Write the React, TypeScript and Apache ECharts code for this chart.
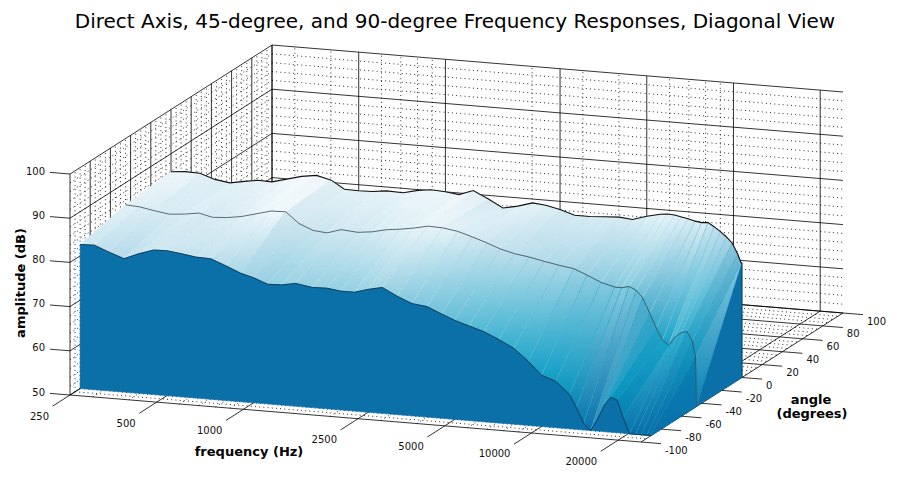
import React, { useEffect, useRef } from "react";
import * as echarts from "echarts";

const TITLE = "Direct Axis, 45-degree, and 90-degree Frequency Responses, Diagonal View";

const FREQS = [250, 280, 315, 355, 400, 450, 500, 560, 630, 710,
  800, 900, 1000, 1120, 1250, 1400, 1600, 1800, 2000, 2240,
  2500, 2800, 3150, 3550, 4000, 4500, 5000, 5600, 6300, 7100,
  8000, 9000, 10000, 11200, 12500, 13200, 14000, 14800, 15600, 16500,
  17400, 18300, 19200, 20200, 21200, 22200, 23200, 23800, 24000];

const ANGLES = [-90, -45, 0];

const RESP_90 = [82.6, 82.7, 81.4, 80.2, 81.6, 82.7, 82.8, 82.4, 81.9, 81.8,
  80.5, 79.1, 78.3, 77.1, 77.2, 77.8, 77.2, 77.3, 76.9, 76.9,
  77.8, 78.5, 76.8, 75.4, 75.0, 73.6, 72.4, 71.4, 70.4, 68.9,
  67.2, 64.5, 61.6, 60.5, 57.8, 55.0, 51.5, 50.0, 52.5, 56.0,
  57.9, 57.4, 53.5, 50.0, 50.0, 50.0, 50.0, 50.0, 50.0];

const RESP_45 = [85.0, 84.8, 84.2, 83.7, 84.0, 84.5, 83.8, 84.0, 84.5, 85.4,
  86.3, 86.4, 84.0, 82.7, 82.4, 83.4, 83.1, 83.5, 84.2, 84.6,
  85.1, 85.8, 85.7, 85.2, 84.2, 83.1, 82.0, 81.2, 80.7, 80.0,
  79.4, 78.9, 77.7, 76.3, 75.5, 75.5, 75.9, 75.2, 73.6, 70.3,
  67.0, 64.4, 63.4, 65.3, 66.4, 66.8, 64.8, 61.2, 50.0];

const RESP_0 = [85.9, 86.2, 86.1, 85.0, 84.5, 85.1, 85.6, 85.5, 86.4, 87.3,
  87.8, 87.0, 85.2, 85.1, 85.2, 85.6, 85.5, 86.3, 86.7, 86.5,
  86.1, 87.3, 85.7, 83.9, 84.6, 85.6, 85.3, 84.6, 83.6, 83.6,
  83.8, 84.0, 83.7, 84.7, 85.4, 85.6, 85.5, 85.2, 84.9, 84.5,
  84.3, 84.4, 83.6, 82.6, 81.5, 80.2, 77.8, 76.0, 75.9];

const RESPONSES = [RESP_90, RESP_45, RESP_0];

const FREQ_TICKS = [250, 500, 1000, 2500, 5000, 10000, 20000];
const FREQ_LABELS = ["250", "500", "1000", "2500", "5000", "10000", "20000"];
const FREQ_MINOR = [300, 400, 600, 700, 800, 900, 2000, 3000, 4000, 6000, 7000, 8000, 9000];
const AMP_TICKS = [50, 60, 70, 80, 90, 100];
const AMP_MINOR = [52, 54, 56, 58, 62, 64, 66, 68, 72, 74, 76, 78, 82, 84, 86, 88, 92, 94, 96, 98];
const ANGLE_TICKS = [-100, -80, -60, -40, -20, 0, 20, 40, 60, 80, 100];
const ANGLE_MINOR = [-95, -90, -85, -75, -70, -65, -55, -50, -45, -35, -30, -25, -15, -10, -5,
  5, 10, 15, 25, 30, 35, 45, 50, 55, 65, 70, 75, 85, 90, 95];

const F_MIN = 250, F_MAX = 24000, Z_MIN = 50, Z_MAX = 100, A_MIN = -100, A_MAX = 100;

// view (oblique projection of the angle axis and tilt of the frequency axis)
const ANGLE_DX = 202 / 200;
const ANGLE_DY = -129 / 200;
const FREQ_SKEW = 47 / 571;

const FONT = "DejaVu Sans";
const FACE_COLOR = "#0b6fa8";
const DARK = [8, 104, 162];
const CMAP_STOPS = [50, 58, 64, 70, 76, 80, 83, 86, 89];
const CMAP_COLORS = [[10, 110, 168], [5, 150, 192], [24, 168, 204], [72, 184, 212], [136, 204, 224],
  [180, 220, 234], [208, 232, 241], [236, 246, 250], [255, 255, 255]];

const clipZ = (z: number) => Math.max(Z_MIN, Math.min(Z_MAX, z));

function P(api: any, f: number, a: number, z: number) {
  const c = api.coord([f, z]);
  const o = api.coord([F_MIN, Z_MIN]);
  const t = a - A_MIN;
  return [c[0] + t * ANGLE_DX, c[1] + (c[0] - o[0]) * FREQ_SKEW + t * ANGLE_DY];
}

function seg(p: number[], q: number[], style: any) {
  return { type: "line", shape: { x1: p[0], y1: p[1], x2: q[0], y2: q[1] }, style };
}

function cmap(z: number) {
  if (z <= CMAP_STOPS[0]) return CMAP_COLORS[0].slice();
  for (let k = 1; k < CMAP_STOPS.length; k++) {
    if (z <= CMAP_STOPS[k]) {
      const t = (z - CMAP_STOPS[k - 1]) / (CMAP_STOPS[k] - CMAP_STOPS[k - 1]);
      return CMAP_COLORS[k].map((v, m) => CMAP_COLORS[k - 1][m] + (v - CMAP_COLORS[k - 1][m]) * t);
    }
  }
  return CMAP_COLORS[CMAP_COLORS.length - 1].slice();
}

function shade(rgb: number[], s: number) {
  let out;
  if (s >= 0) out = rgb.map((v) => v + (255 - v) * s);
  else out = rgb.map((v, m) => v + (DARK[m] - v) * -s);
  return "rgb(" + out.map((v) => Math.round(Math.max(0, Math.min(255, v)))).join(",") + ")";
}

const MAJOR = { stroke: "#000", lineWidth: 0.8, fill: null };
const MINOR = { stroke: "#000", lineWidth: 0.9, lineDash: [0.9, 3.3], fill: null };

function wallItem(params: any, api: any) {
  const ch: any[] = [];
  AMP_MINOR.forEach((z) => {
    ch.push(seg(P(api, F_MIN, A_MAX, z), P(api, F_MAX, A_MAX, z), MINOR));
    ch.push(seg(P(api, F_MIN, A_MIN, z), P(api, F_MIN, A_MAX, z), MINOR));
  });
  FREQ_MINOR.forEach((f) => {
    ch.push(seg(P(api, f, A_MAX, Z_MIN), P(api, f, A_MAX, Z_MAX), MINOR));
    ch.push(seg(P(api, f, A_MIN, Z_MIN), P(api, f, A_MAX, Z_MIN), MINOR));
  });
  ANGLE_MINOR.forEach((a) => {
    ch.push(seg(P(api, F_MIN, a, Z_MIN), P(api, F_MIN, a, Z_MAX), MINOR));
    ch.push(seg(P(api, F_MIN, a, Z_MIN), P(api, F_MAX, a, Z_MIN), MINOR));
  });
  AMP_TICKS.forEach((z) => {
    ch.push(seg(P(api, F_MIN, A_MAX, z), P(api, F_MAX, A_MAX, z), MAJOR));
    ch.push(seg(P(api, F_MIN, A_MIN, z), P(api, F_MIN, A_MAX, z), MAJOR));
  });
  FREQ_TICKS.forEach((f) => {
    ch.push(seg(P(api, f, A_MAX, Z_MIN), P(api, f, A_MAX, Z_MAX), MAJOR));
    ch.push(seg(P(api, f, A_MIN, Z_MIN), P(api, f, A_MAX, Z_MIN), MAJOR));
  });
  ANGLE_TICKS.forEach((a) => {
    ch.push(seg(P(api, F_MIN, a, Z_MIN), P(api, F_MIN, a, Z_MAX), MAJOR));
    ch.push(seg(P(api, F_MIN, a, Z_MIN), P(api, F_MAX, a, Z_MIN), MAJOR));
  });
  ch.push(seg(P(api, F_MAX, A_MIN, Z_MIN), P(api, F_MAX, A_MAX, Z_MIN), MAJOR));
  return { type: "group", children: ch };
}

function surfaceItem(params: any, api: any) {
  const i = api.value(2), j = api.value(3);
  const lo = RESPONSES[j], hi = RESPONSES[j + 1];
  const a0 = ANGLES[j], a1 = ANGLES[j + 1];
  const f0 = FREQS[i], f1 = FREQS[i + 1];
  const z00 = clipZ(lo[i]), z10 = clipZ(lo[i + 1]), z01 = clipZ(hi[i]), z11 = clipZ(hi[i + 1]);
  const pts = [P(api, f0, a0, z00), P(api, f1, a0, z10), P(api, f1, a1, z11), P(api, f0, a1, z01)];
  const dxPx = P(api, f1, A_MIN, Z_MIN)[0] - P(api, f0, A_MIN, Z_MIN)[0];
  const zPx = api.coord([F_MIN, Z_MIN])[1] - api.coord([F_MIN, Z_MIN + 1])[1];
  const slopeFront = (z10 - z00) * zPx / Math.max(dxPx, 0.5);
  const slopeBack = (z11 - z01) * zPx / Math.max(dxPx, 0.5);
  const sF = Math.max(-0.22, Math.min(0.3, 0.09 * slopeFront));
  const sB = Math.max(-0.22, Math.min(0.3, 0.09 * slopeBack));
  const cFront = shade(cmap((z00 + z10) / 2), sF);
  const cBack = shade(cmap((z01 + z11) / 2), sB);
  const cMid = shade(cmap((z00 + z10 + z01 + z11) / 4), (sF + sB) / 2);
  const fill = new echarts.graphic.LinearGradient(0, 0, 0, 1, [
    { offset: 0, color: cBack },
    { offset: 1, color: cFront },
  ]);
  return {
    type: "polygon",
    shape: { points: pts },
    style: { fill, stroke: cMid, lineWidth: 0.5 },
  };
}

function faceItem(params: any, api: any) {
  const kind = api.value(2);
  const last = FREQS.length - 1;
  if (kind === 0) {
    const pts = FREQS.map((f, i) => P(api, f, ANGLES[0], clipZ(RESP_90[i])));
    pts.push(P(api, F_MAX, ANGLES[0], Z_MIN));
    pts.push(P(api, F_MIN, ANGLES[0], Z_MIN));
    return { type: "polygon", shape: { points: pts }, style: { fill: FACE_COLOR, stroke: FACE_COLOR, lineWidth: 0.5 } };
  }
  const pts = ANGLES.map((a, j) => P(api, F_MAX, a, clipZ(RESPONSES[j][last])));
  pts.push(P(api, F_MAX, ANGLES[ANGLES.length - 1], Z_MIN));
  pts.push(P(api, F_MAX, ANGLES[0], Z_MIN));
  return { type: "polygon", shape: { points: pts }, style: { fill: FACE_COLOR, stroke: FACE_COLOR, lineWidth: 0.5 } };
}

const LINE_STYLES = [
  { stroke: "#0a3552", lineWidth: 0.9, fill: null },
  { stroke: "#3c4a50", lineWidth: 0.8, fill: null },
  { stroke: "#111", lineWidth: 1.1, fill: null },
];

function lineItem(params: any, api: any) {
  const j = api.value(2);
  const last = FREQS.length - 1;
  const pts = FREQS.map((f, i) => P(api, f, ANGLES[j], clipZ(RESPONSES[j][i])));
  const ch: any[] = [{ type: "polyline", shape: { points: pts }, style: LINE_STYLES[j] }];
  if (j === ANGLES.length - 1) {
    ch.push(seg(P(api, F_MAX, ANGLES[j], clipZ(RESPONSES[j][last])), P(api, F_MAX, ANGLES[j], Z_MIN),
      { stroke: "#0a3552", lineWidth: 0.9 }));
  }
  return { type: "group", children: ch };
}

const TICK_STYLE = { stroke: "#000", lineWidth: 0.8 };
function labelStyle(text: string, align: string) {
  return {
    text, fill: "#111", fontSize: 10, fontFamily: FONT,
    align, textAlign: align, verticalAlign: "middle", textVerticalAlign: "middle",
  };
}

function tickItem(params: any, api: any) {
  const kind = api.value(2);
  const k = api.value(3);
  if (kind === 0) {
    const f = FREQ_TICKS[k];
    const b = P(api, f, A_MIN, Z_MIN);
    return {
      type: "group", children: [
        seg(b, [b[0] - 17.5, b[1] + 11.2], TICK_STYLE),
        { type: "text", x: b[0] - 21, y: b[1] + 21, style: labelStyle(FREQ_LABELS[k], "right") },
      ],
    };
  }
  if (kind === 1) {
    const z = AMP_TICKS[k];
    const b = P(api, F_MIN, A_MIN, z);
    return {
      type: "group", children: [
        seg(b, [b[0] - 20, b[1] - 1.6], TICK_STYLE),
        { type: "text", x: b[0] - 25, y: b[1] - 3, style: labelStyle(String(z), "right") },
      ],
    };
  }
  const a = ANGLE_TICKS[k];
  const b = P(api, F_MAX, a, Z_MIN);
  return {
    type: "group", children: [
      seg(b, [b[0] + 20, b[1] + 1.6], TICK_STYLE),
      { type: "text", x: b[0] + 24, y: b[1] + 8, style: labelStyle(String(a), "left") },
    ],
  };
}

function buildOption() {
  const quads: number[][] = [];
  for (let j = ANGLES.length - 2; j >= 0; j--) {
    for (let i = 0; i < FREQS.length - 1; i++) quads.push([FREQS[i], 60, i, j]);
  }
  const ticks: number[][] = [];
  FREQ_TICKS.forEach((f, k) => ticks.push([f, Z_MIN, 0, k]));
  AMP_TICKS.forEach((z, k) => ticks.push([F_MIN, z, 1, k]));
  ANGLE_TICKS.forEach((a, k) => ticks.push([F_MAX, Z_MIN, 2, k]));

  const common = { type: "custom", coordinateSystem: "cartesian2d", silent: true, clip: false, encode: { x: 0, y: 1 } };
  const bold = { fontSize: 13, fontWeight: "bold", fontFamily: FONT, fill: "#000", textAlign: "center", align: "center", textVerticalAlign: "middle", verticalAlign: "middle" };
  return {
    animation: false,
    backgroundColor: "#fff",
    grid: { left: 70, top: 174, width: 571, height: 221 },
    xAxis: { type: "log", logBase: 10, min: F_MIN, max: F_MAX, show: false },
    yAxis: { type: "value", min: Z_MIN, max: Z_MAX, show: false },
    graphic: [
      { type: "text", x: 455, y: 21, style: { text: TITLE, fontSize: 20, fontFamily: FONT, fill: "#000", textAlign: "center", align: "center", textVerticalAlign: "middle", verticalAlign: "middle" } },
      { type: "text", x: 20, y: 283, rotation: Math.PI / 2, style: { ...bold, text: "amplitude (dB)" } },
      { type: "text", x: 249, y: 451, style: { ...bold, text: "frequency (Hz)" } },
      { type: "text", x: 811, y: 399, style: { ...bold, text: "angle" } },
      { type: "text", x: 812, y: 413, style: { ...bold, text: "(degrees)" } },
    ],
    series: [
      { ...common, z: 1, data: [[F_MIN, Z_MIN]], renderItem: wallItem },
      { ...common, z: 2, data: quads, renderItem: surfaceItem },
      { ...common, z: 3, data: [[F_MIN, Z_MIN, 0], [F_MAX, Z_MIN, 1]], renderItem: faceItem },
      { ...common, z: 4, data: [[F_MIN, Z_MIN, 0], [F_MIN, Z_MIN, 1], [F_MIN, Z_MIN, 2]], renderItem: lineItem },
      { ...common, z: 5, data: ticks, renderItem: tickItem },
    ],
  };
}

export default function App() {
  const ref = useRef<HTMLDivElement>(null);
  useEffect(() => {
    if (!ref.current) return;
    const chart = echarts.init(ref.current, undefined, { renderer: "svg" });
    chart.setOption(buildOption() as any);
    return () => chart.dispose();
  }, []);
  return <div ref={ref} style={{ position: "fixed", left: 0, top: 0, width: 900, height: 500 }} />;
}
